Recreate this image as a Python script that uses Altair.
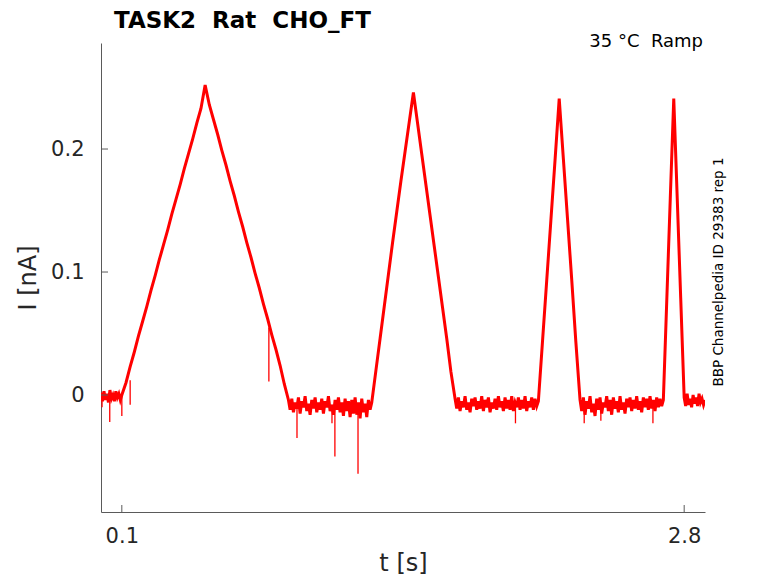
import altair as alt
import pandas as pd

# ---- data (t in s, I in nA), each segment sampled evenly between its start and end ----
base_a_t = [0.00, 0.10]
base_a = [0.002, -0.005, 0.003, -0.004, 0.001, -0.006, 0.004, -0.003, 0.000, -0.005,
          0.003, -0.002, 0.001, -0.004]
ramp1_up_t = [0.10, 0.50]
ramp1_up = [0.000, 0.010, 0.023, 0.035, 0.048, 0.060, 0.072, 0.085, 0.097, 0.110,
            0.122, 0.134, 0.147, 0.159, 0.171, 0.184, 0.196, 0.208, 0.221, 0.233]
ramp1_dn_t = [0.50, 0.90]
ramp1_dn = [0.252, 0.236, 0.224, 0.212, 0.199, 0.187, 0.174, 0.162, 0.149, 0.137,
            0.124, 0.112, 0.099, 0.087, 0.074, 0.062, 0.049, 0.037, 0.024, 0.009]
base_b_t = [0.90, 1.30]
base_b = [-0.004, -0.012, -0.003, -0.014, -0.006, -0.011, -0.002, -0.015, -0.005, -0.010,
          -0.001, -0.013, -0.007, -0.016, -0.004, -0.011, -0.002, -0.014, -0.006, -0.012,
          -0.003, -0.015, -0.005, -0.010, -0.001, -0.013, -0.008, -0.016, -0.004, -0.012,
          -0.002, -0.014, -0.006, -0.017, -0.003, -0.013, -0.005, -0.018, -0.004, -0.015,
          -0.002, -0.016, -0.006, -0.019, -0.003, -0.014, -0.007, -0.018, -0.004, -0.012]
ramp2_up_t = [1.30, 1.50]
ramp2_up = [-0.006, 0.020, 0.046, 0.072, 0.098, 0.124, 0.149, 0.174, 0.198, 0.222]
ramp2_dn_t = [1.50, 1.70]
ramp2_dn = [0.246, 0.221, 0.196, 0.171, 0.146, 0.121, 0.096, 0.071, 0.046, 0.019]
base_c_t = [1.70, 2.10]
base_c = [-0.003, -0.011, -0.002, -0.013, -0.005, -0.010, -0.001, -0.012, -0.006, -0.014,
          -0.003, -0.009, -0.002, -0.012, -0.005, -0.011, -0.001, -0.013, -0.004, -0.010,
          -0.002, -0.014, -0.006, -0.011, -0.003, -0.012, -0.001, -0.010, -0.005, -0.013,
          -0.002, -0.011, -0.004, -0.012, -0.001, -0.013, -0.006, -0.010, -0.002, -0.012,
          -0.004, -0.011, -0.001, -0.013, -0.005, -0.010, -0.002, -0.012, -0.003, -0.009]
ramp3_up_t = [2.10, 2.20]
ramp3_up = [-0.005, 0.044, 0.093, 0.142, 0.191]
ramp3_dn_t = [2.20, 2.30]
ramp3_dn = [0.241, 0.192, 0.143, 0.094, 0.043]
base_d_t = [2.30, 2.70]
base_d = [-0.004, -0.013, -0.002, -0.016, -0.005, -0.011, -0.001, -0.014, -0.007, -0.017,
          -0.003, -0.012, -0.002, -0.015, -0.006, -0.010, -0.001, -0.013, -0.004, -0.016,
          -0.002, -0.011, -0.005, -0.014, -0.001, -0.012, -0.006, -0.015, -0.003, -0.010,
          -0.002, -0.013, -0.004, -0.011, -0.001, -0.012, -0.005, -0.014, -0.002, -0.010,
          -0.003, -0.012, -0.001, -0.011, -0.004, -0.013, -0.002, -0.010, -0.003, -0.009]
ramp4_up_t = [2.70, 2.75]
ramp4_up = [-0.004, 0.078, 0.160]
ramp4_dn_t = [2.75, 2.80]
ramp4_dn = [0.241, 0.160, 0.079]
base_e_t = [2.80, 2.90]
base_e = [-0.002, -0.009, 0.001, -0.008, -0.003, -0.010, 0.000, -0.007, -0.002, -0.009,
          0.001, -0.006, -0.003, -0.008, -0.004]

# isolated downward spikes
spike_t = [0.005, 0.042, 0.100, 0.140, 0.806, 0.941, 1.109, 1.123, 1.234, 1.990, 2.320, 2.400, 2.650]
spike_from = [0.000, 0.000, 0.000, 0.012, 0.055, -0.008, -0.008, -0.008, -0.010, -0.008, -0.008, -0.008, -0.008]
spike_to = [-0.010, -0.022, -0.017, -0.008, 0.011, -0.035, -0.023, -0.050, -0.064, -0.023, -0.023, -0.021, -0.023]

x_ticks = [0.1, 2.8]
y_ticks = [0.0, 0.1, 0.2]

segments = [
    (base_a_t, base_a), (ramp1_up_t, ramp1_up), (ramp1_dn_t, ramp1_dn),
    (base_b_t, base_b), (ramp2_up_t, ramp2_up), (ramp2_dn_t, ramp2_dn),
    (base_c_t, base_c), (ramp3_up_t, ramp3_up), (ramp3_dn_t, ramp3_dn),
    (base_d_t, base_d), (ramp4_up_t, ramp4_up), (ramp4_dn_t, ramp4_dn),
    (base_e_t, base_e),
]
rows = []
for (t0, t1), vals in segments:
    n = len(vals)
    last = (t1 >= 2.9)
    for k, v in enumerate(vals):
        frac = k / (n - 1) if last else k / n
        rows.append({"t": t0 + (t1 - t0) * frac, "I": v})
trace = pd.DataFrame(rows)
spikes = pd.DataFrame({"t": spike_t, "a": spike_from, "b": spike_to})

W, H = 604, 469
RED = "#ff0000"
AX = "#5a5a5a"
TXT = "#262626"
FONT = "DejaVu Sans"
NB = "\u00a0"

xs = alt.Scale(domain=[0, 2.9], nice=False, zero=False)
ys = alt.Scale(domain=[-0.0951, 0.2862], nice=False, zero=False)

xaxis = alt.Axis(values=x_ticks, title="t [s]", grid=False, tickSize=0, domainColor=AX,
                 labelFontSize=21, labelColor=TXT, labelFont=FONT, labelPadding=13,
                 titleFontSize=24, titleFontWeight="normal", titleColor=TXT, titleFont=FONT,
                 titlePadding=5, labelExpr="format(datum.value, '.1f')")
yaxis = alt.Axis(values=y_ticks, title="I [nA]", grid=False, tickSize=0, domainColor=AX,
                 labelFontSize=21, labelColor=TXT, labelFont=FONT, labelPadding=17,
                 titleFontSize=24, titleFontWeight="normal", titleColor=TXT, titleFont=FONT,
                 titlePadding=10,
                 labelExpr="datum.value == 0 ? '0' : format(datum.value, '.1f')")

line = alt.Chart(trace).mark_line(color=RED, strokeWidth=3, clip=True).encode(
    x=alt.X("t:Q", scale=xs, axis=xaxis),
    y=alt.Y("I:Q", scale=ys, axis=yaxis),
    order="t:Q",
)
spk = alt.Chart(spikes).mark_rule(color=RED, strokeWidth=1.3).encode(
    x=alt.X("t:Q", scale=xs), y=alt.Y("a:Q", scale=ys), y2="b:Q"
)
xt = alt.Chart(pd.DataFrame({"v": x_ticks})).mark_rule(color=AX, strokeWidth=1).encode(
    x=alt.X("v:Q", scale=xs), y=alt.value(H), y2=alt.value(H - 7)
)
yt = alt.Chart(pd.DataFrame({"v": y_ticks})).mark_rule(color=AX, strokeWidth=1).encode(
    y=alt.Y("v:Q", scale=ys), x=alt.value(0), x2=alt.value(7)
)

one = pd.DataFrame({"k": [0]})
title = alt.Chart(one).mark_text(text=f"TASK2{NB}{NB}Rat{NB}{NB}CHO_FT", font=FONT, fontSize=23,
                                 fontWeight="bold", color="#000000", align="left",
                                 baseline="alphabetic").encode(x=alt.value(13), y=alt.value(-15))
cond = alt.Chart(one).mark_text(text=f"35 °C{NB}{NB}Ramp", font=FONT, fontSize=18, color="#000000",
                                align="right", baseline="alphabetic").encode(
    x=alt.value(602), y=alt.value(4))
side = alt.Chart(one).mark_text(text="BBP Channelpedia ID 29383 rep 1", font=FONT, fontSize=13.5,
                                color="#000000", align="center", baseline="middle",
                                angle=270).encode(x=alt.value(618), y=alt.value(229))

chart = alt.layer(line, spk, xt, yt, title, cond, side).properties(
    width=W, height=H,
    autosize=alt.AutoSizeParams(type="none"),
    padding={"left": 93, "top": 35, "right": 50, "bottom": 63},
).configure_view(stroke=None).configure_axis(domainWidth=1)

chart.save("out.html", embed_options={"renderer": "svg", "actions": False})
